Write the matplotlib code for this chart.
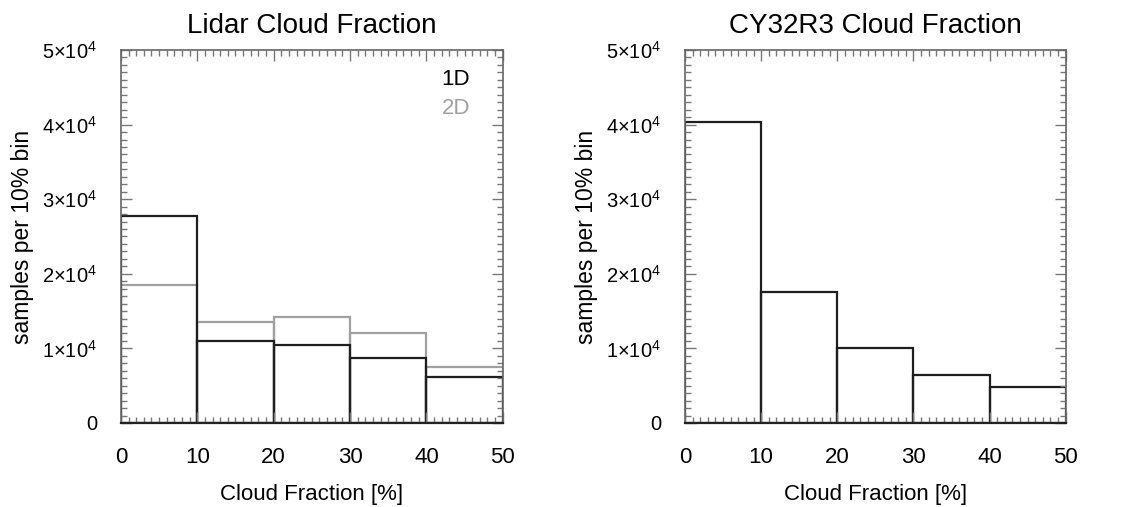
import numpy as np
import matplotlib.pyplot as plt
from matplotlib.ticker import MultipleLocator, FuncFormatter

plt.rcParams['font.family'] = ['Liberation Sans', 'DejaVu Sans']
plt.rcParams['mathtext.fontset'] = 'custom'
plt.rcParams['mathtext.rm'] = 'Liberation Sans'
plt.rcParams['mathtext.it'] = 'Liberation Sans'

# histogram bins (cloud fraction, %)
bin_edges = [0, 10, 20, 30, 40, 50]

# lidar counts per bin
lidar_1d = [27700, 11000, 10450, 8650, 6200]
lidar_2d = [18500, 13600, 14200, 12100, 7500]

# model counts per bin
cy32r3 = [40400, 17500, 10000, 6450, 4850]


def sci_label(v, pos):
    if v == 0:
        return '0'
    m = int(round(v / 1e4))
    return r'$%d{\times}10^{4}$' % m


def draw_hist(ax, counts, color):
    left = bin_edges[:-1]
    width = np.diff(bin_edges)
    ax.bar(left, counts, width=width, align='edge', fill=False,
           edgecolor=color, linewidth=1.6)


def style_axes(ax, title):
    ax.set_xlim(0, 50)
    ax.set_ylim(0, 50000)
    ax.xaxis.set_major_locator(MultipleLocator(10))
    ax.xaxis.set_minor_locator(MultipleLocator(1))
    ax.yaxis.set_major_locator(MultipleLocator(10000))
    ax.yaxis.set_minor_locator(MultipleLocator(1000))
    ax.yaxis.set_major_formatter(FuncFormatter(sci_label))
    ax.tick_params(which='both', direction='in', top=True, right=True,
                   color='#777777', width=1)
    ax.tick_params(which='major', length=8, pad=17)
    ax.tick_params(axis='x', which='major', labelsize=16)
    ax.tick_params(axis='y', which='major', labelsize=14.5)
    ax.tick_params(which='minor', length=4)
    for s in ax.spines.values():
        s.set_color('#666666')
        s.set_linewidth(1.2)
    ax.spines['bottom'].set_color('#222222')
    ax.spines['bottom'].set_linewidth(1.6)
    ax.set_title(title, fontsize=20, pad=12)
    ax.set_xlabel('Cloud Fraction [%]', fontsize=16, labelpad=12)
    ax.set_ylabel('samples per 10% bin', fontsize=16.5, labelpad=6)


fig = plt.figure(figsize=(11.23, 5.07), dpi=100)
ax1 = fig.add_axes([0.1077, 0.1657, 0.340, 0.7357])
ax2 = fig.add_axes([0.610, 0.1657, 0.339, 0.7357])

draw_hist(ax1, lidar_2d, '#a0a0a0')
draw_hist(ax1, lidar_1d, '#1e1e1e')
style_axes(ax1, 'Lidar Cloud Fraction')
ax1.text(0.914, 0.922, '1D', transform=ax1.transAxes, ha='right', va='center',
         fontsize=16, color='black')
ax1.text(0.914, 0.842, '2D', transform=ax1.transAxes, ha='right', va='center',
         fontsize=16, color='#a0a0a0')

draw_hist(ax2, cy32r3, '#1e1e1e')
style_axes(ax2, 'CY32R3 Cloud Fraction')

fig.savefig('out.png', dpi=100)
